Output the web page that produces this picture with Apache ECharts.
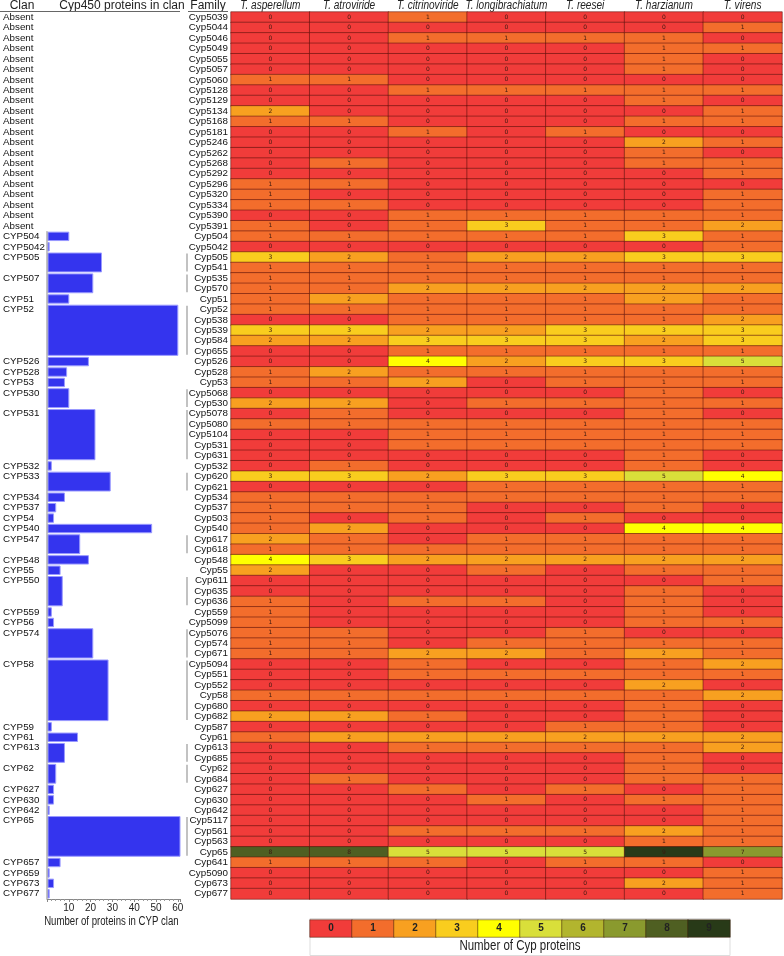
<!DOCTYPE html>
<html><head><meta charset="utf-8">
<script src="https://cdn.jsdelivr.net/npm/echarts@6/dist/echarts.min.js"></script>
<style>html,body{margin:0;padding:0;background:#fff}#c{width:784px;height:956px}</style>
</head><body><div id="c"></div>
<script>
const FONT = "'Liberation Sans',Arial,sans-serif";

const species = ['T. asperellum','T. atroviride','T. citrinoviride','T. longibrachiatum','T. reesei','T. harzianum','T. virens'];

const families = ['Cyp5039','Cyp5044','Cyp5046','Cyp5049','Cyp5055','Cyp5057','Cyp5060','Cyp5128','Cyp5129','Cyp5134',
'Cyp5168','Cyp5181','Cyp5246','Cyp5262','Cyp5268','Cyp5292','Cyp5296','Cyp5320','Cyp5334','Cyp5390',
'Cyp5391','Cyp504','Cyp5042','Cyp505','Cyp541','Cyp535','Cyp570','Cyp51','Cyp52','Cyp538',
'Cyp539','Cyp584','Cyp655','Cyp526','Cyp528','Cyp53','Cyp5068','Cyp530','Cyp5078','Cyp5080',
'Cyp5104','Cyp531','Cyp631','Cyp532','Cyp620','Cyp621','Cyp534','Cyp537','Cyp503','Cyp540',
'Cyp617','Cyp618','Cyp548','Cyp55','Cyp611','Cyp635','Cyp636','Cyp559','Cyp5099','Cyp5076',
'Cyp574','Cyp671','Cyp5094','Cyp551','Cyp552','Cyp58','Cyp680','Cyp682','Cyp587','Cyp61',
'Cyp613','Cyp685','Cyp62','Cyp684','Cyp627','Cyp630','Cyp642','Cyp5117','Cyp561','Cyp563',
'Cyp65','Cyp641','Cyp5090','Cyp673','Cyp677'];

const asperellum = [0,0,0,0,0,0,1,0,0,2, 1,0,0,0,0,0,1,1,1,0, 1,1,0,3,1,1,1,1,1,0, 3,2,0,0,1,1,0,2,0,1, 0,0,0,0,3,0,1,1,1,1, 2,1,4,2,0,0,1,1,1,1, 1,1,0,0,0,1,0,2,0,1, 0,0,0,0,0,0,0,0,0,0, 8,1,0,0,0];
const atroviride = [0,0,0,0,0,0,1,0,0,0, 1,0,0,0,1,0,1,0,1,0, 0,1,0,2,1,1,1,2,1,0, 3,2,0,0,2,1,0,2,1,1, 0,0,0,1,3,0,1,1,0,2, 1,1,3,0,0,0,0,0,0,1, 1,1,0,0,0,1,0,2,0,2, 0,0,0,1,0,0,0,0,0,0, 8,1,0,0,0];
const citrinoviride = [1,0,1,0,0,0,0,1,0,0, 0,1,0,0,0,0,0,0,0,1, 1,1,0,1,1,1,2,1,1,1, 2,3,1,4,1,2,0,0,0,1, 1,1,0,0,2,0,1,1,1,0, 0,1,2,0,0,0,1,0,0,0, 0,2,1,1,0,1,0,1,0,2, 1,0,0,0,1,0,0,0,1,0, 5,1,0,0,0];
const longibrachiatum = [0,0,1,0,0,0,0,1,0,0, 0,0,0,0,0,0,0,0,0,1, 3,1,0,2,1,1,2,1,1,1, 2,3,1,2,1,0,0,1,0,1, 1,1,0,0,3,1,1,0,0,0, 1,1,2,1,0,0,1,0,0,0, 1,2,0,1,0,1,0,0,0,2, 1,0,0,0,0,1,0,0,1,0, 5,0,0,0,0];
const reesei = [0,0,1,0,0,0,0,1,0,0, 0,1,0,0,0,0,0,0,0,1, 1,1,0,2,1,1,2,1,1,1, 3,3,1,3,1,1,0,1,0,1, 1,1,0,0,3,1,1,0,1,0, 1,1,2,0,0,0,0,0,0,1, 1,1,0,1,0,1,0,0,1,2, 1,0,0,0,1,0,0,0,1,0, 5,1,0,0,0];
const harzianum = [0,0,1,1,1,1,0,1,1,0, 1,0,2,1,1,0,0,0,0,1, 1,3,0,3,1,1,2,2,1,1, 3,2,1,3,1,1,1,1,1,1, 1,1,1,1,5,1,1,1,0,4, 1,1,2,1,0,1,1,1,1,0, 1,2,1,1,2,1,1,1,1,2, 1,1,1,1,0,1,0,0,2,1, 9,1,0,2,0];
const virens = [0,1,0,1,0,0,0,1,0,1, 1,0,1,0,1,1,0,1,1,1, 2,1,1,3,1,1,2,1,1,2, 3,3,1,5,1,1,0,1,0,1, 1,1,0,0,4,1,1,0,0,4, 1,1,2,1,1,0,0,0,1,0, 1,1,2,1,0,2,0,0,0,2, 2,0,0,1,1,1,1,1,1,1, 7,0,1,1,1];
const speciesValues = [asperellum, atroviride, citrinoviride, longibrachiatum, reesei, harzianum, virens];

// Clans: name, number of families (rows), proteins in clan (bar)
const absentRows = 21;
const clanNames = ['CYP504','CYP5042','CYP505','CYP507','CYP51','CYP52','CYP526','CYP528','CYP53','CYP530',
'CYP531','CYP532','CYP533','CYP534','CYP537','CYP54','CYP540','CYP547','CYP548','CYP55',
'CYP550','CYP559','CYP56','CYP574','CYP58','CYP59','CYP61','CYP613','CYP62','CYP627',
'CYP630','CYP642','CYP65','CYP657','CYP659','CYP673','CYP677'];
const clanRows = [1,1,2,2,1,5,1,1,1,2, 5,1,2,1,1,1,1,2,1,1, 3,1,1,3,6,1,1,2,2,1, 1,1,4,1,1,1,1];
const clanProteins = [10,1,25,21,10,60,19,9,8,10, 22,2,29,8,4,3,48,15,19,6, 7,2,3,21,28,2,14,8,4,3, 3,1,61,6,1,3,1];

const legendValues = [0,1,2,3,4,5,6,7,8,9];
const legendColors = ['#f13c3a','#f36d2c','#f8a020','#f9cd1e','#ffff00','#d9df3a','#b2b52e','#8a9a2e','#4f5f22','#283a18'];

// build derived structures
const rowClanLabel = families.map((f,i)=> i < absentRows ? 'Absent' : '');
const clanBlocks = [];
let r = absentRows;
clanNames.forEach((n,k)=>{
  rowClanLabel[r] = n;
  clanBlocks.push([r, r + clanRows[k] - 1, clanProteins[k]]);
  r += clanRows[k];
});
const heatData = [];
speciesValues.forEach((arr, x)=> arr.forEach((v, y)=> heatData.push([x, y, v])));
const legendData = legendValues.map((v,i)=>[i,0,v]);

const chart = echarts.init(document.getElementById('c'), null, {renderer:'canvas'});
chart.setOption({
  animation:false,
  textStyle:{fontFamily:FONT},
  grid:[
    {left:231, right:2, top:12, bottom:57},
    {left:47, width:133, top:12, bottom:57},
    {left:185, width:4, top:12, bottom:57},
    {left:310, width:420, top:920, height:17}
  ],
  xAxis:[
    {gridIndex:0, type:'category', position:'top', data:species, axisLine:{show:false}, axisTick:{show:false},
     axisLabel:{show:false}},
    {gridIndex:1, type:'value', min:0, max:61, interval:10, position:'bottom',
     axisLine:{show:true, lineStyle:{color:'#888'}}, axisTick:{show:true, length:3, lineStyle:{color:'#888'}},
     minorTick:{show:true, splitNumber:5, length:2, lineStyle:{color:'#999'}}, splitLine:{show:false},
     axisLabel:{fontSize:10, color:'#222', margin:4, fontFamily:FONT,
       formatter:(v)=> (v>0 && v<=60 && v%10===0) ? String(v) : ''}},
    {gridIndex:2, type:'value', min:0, max:1, show:false},
    {gridIndex:3, type:'category', data:legendValues.map(String), show:false}
  ],
  yAxis:[
    {gridIndex:0, type:'category', inverse:true, data:families, axisLine:{show:false}, axisTick:{show:false},
     axisLabel:{interval:0, fontSize:9.8, color:'#111', margin:3, fontFamily:FONT}},
    {gridIndex:1, type:'category', inverse:true, data:families, axisLine:{show:false}, axisTick:{show:false},
     axisLabel:{interval:0, fontSize:9.8, color:'#111', margin:44, align:'left', fontFamily:FONT,
       formatter:(v, i)=> rowClanLabel[i]}},
    {gridIndex:2, type:'category', inverse:true, data:families, show:false},
    {gridIndex:3, type:'category', data:[''], show:false}
  ],
  visualMap:{type:'piecewise', show:false, seriesIndex:[0,4], dimension:2,
    pieces: legendValues.map((v,i)=>({value:v, color:legendColors[i]}))},
  series:[
    {type:'heatmap', xAxisIndex:0, yAxisIndex:0, data:heatData,
     itemStyle:{borderColor:'rgba(90,15,10,0.55)', borderWidth:1},
     label:{show:true, fontSize:6, color:'#3a1a10', fontFamily:'DejaVu Sans'}},
    {type:'custom', xAxisIndex:1, yAxisIndex:1, data:clanBlocks, encode:{x:2, y:0},
     renderItem:(params, api)=>{
       const s = api.coord([0, api.value(0)]);
       const e = api.coord([api.value(2), api.value(1)]);
       const band = api.size([0,1])[1];
       const y0 = s[1] - band/2 + 1, y1 = e[1] + band/2 - 1;
       return {type:'rect', shape:{x:s[0]+1, y:y0, width:Math.max(e[0]-s[0]-1,1), height:y1-y0},
         style:{fill:'#3434ee', stroke:'#9a9aff', lineWidth:1}};
     }},
    {type:'custom', xAxisIndex:1, yAxisIndex:1, data:[[absentRows, families.length-1]], encode:{y:0},
     renderItem:(params, api)=>{
       const s = api.coord([0, api.value(0)]);
       const e = api.coord([0, api.value(1)]);
       const band = api.size([0,1])[1];
       return {type:'line', shape:{x1:s[0], y1:s[1]-band/2, x2:e[0], y2:e[1]+band/2},
         style:{stroke:'#888', lineWidth:1}};
     }},
    {type:'custom', xAxisIndex:2, yAxisIndex:2, data:clanBlocks.filter(b=>b[1]>b[0]).map(b=>[b[0],b[1]]), encode:{y:0},
     renderItem:(params, api)=>{
       const s = api.coord([0, api.value(0)]);
       const e = api.coord([0, api.value(1)]);
       const band = api.size([0,1])[1];
       return {type:'line', shape:{x1:s[0]+2, y1:s[1]-band/2+1.5, x2:e[0]+2, y2:e[1]+band/2-1.5},
         style:{stroke:'#999', lineWidth:1.2}};
     }},
    {type:'heatmap', xAxisIndex:3, yAxisIndex:3, data:legendData,
     itemStyle:{borderColor:'rgba(60,30,10,0.5)', borderWidth:1},
     label:{show:true, fontSize:10, fontWeight:'bold', color:'#222', fontFamily:FONT,
       formatter:(p)=> String(p.value[2])}}
  ]
});

// header texts (narrow look via horizontal scale), positioned through the axes
const headerY = 6;
const graphics = [
  {type:'text', x:22, y:headerY, style:{text:'Clan', fill:'#222', font:'12px '+FONT, textAlign:'center', textVerticalAlign:'middle'}},
  {type:'text', x:122, y:headerY, style:{text:'Cyp450 proteins in clan', fill:'#222', font:'12px '+FONT, textAlign:'center', textVerticalAlign:'middle'}},
  {type:'text', x:208, y:headerY, style:{text:'Family', fill:'#222', font:'12px '+FONT, textAlign:'center', textVerticalAlign:'middle'}},
  {type:'line', shape:{x1:0, y1:11.5, x2:180, y2:11.5}, style:{stroke:'#666', lineWidth:1}},
  {type:'line', shape:{x1:188, y1:11.5, x2:228, y2:11.5}, style:{stroke:'#666', lineWidth:1}},
  {type:'rect', shape:{x:310, y:918.5, width:420, height:37}, style:{fill:'none', stroke:'#ddd', lineWidth:1}},
  {type:'text', x:520, y:946, scaleX:0.82, style:{text:'Number of Cyp proteins', fill:'#222', font:'14px '+FONT, textAlign:'center', textVerticalAlign:'middle'}}
];
species.forEach((s, i)=>{
  const px = chart.convertToPixel({xAxisIndex:0}, i);
  graphics.push({type:'text', x:px, y:headerY, scaleX:0.84,
    style:{text:s, fill:'#222', font:'italic 12px '+FONT, textAlign:'center', textVerticalAlign:'middle'}});
});
const axisMid = chart.convertToPixel({xAxisIndex:1}, 30);
graphics.push({type:'text', x:axisMid - 1, y:922, scaleX:0.8,
  style:{text:'Number of proteins in CYP clan', fill:'#222', font:'12px '+FONT, textAlign:'center', textVerticalAlign:'middle'}});
chart.setOption({graphic: graphics});
</script></body></html>
